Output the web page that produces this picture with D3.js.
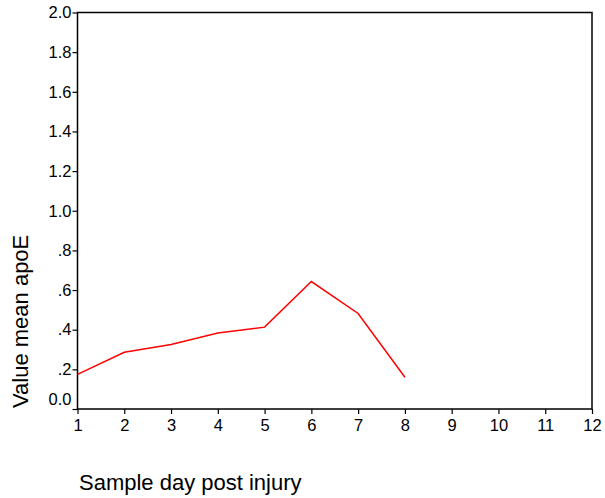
<!DOCTYPE html>
<html><head><meta charset="utf-8">
<script src="https://cdn.jsdelivr.net/npm/d3@7/dist/d3.min.js"></script>
<style>body{margin:0;background:#fff}text{font-family:"Liberation Sans",Arial,sans-serif;fill:#000}</style>
</head><body><svg id="c" width="605" height="498"></svg>
<script>
const days = [1,2,3,4,5,6,7,8];
const apoE = [0.175,0.286,0.325,0.383,0.413,0.643,0.482,0.16];
const xTicks = [1,2,3,4,5,6,7,8,9,10,11,12];
const yTicks = [0,0.2,0.4,0.6,0.8,1.0,1.2,1.4,1.6,1.8,2.0];
const yLabels = ["0.0",".2",".4",".6",".8","1.0","1.2","1.4","1.6","1.8","2.0"];
const xTitle = "Sample day post injury";
const yTitle = "Value mean apoE";

const svg = d3.select("#c");
const L=77.5, R=592, T=12.5, B=409;
const x = d3.scaleLinear().domain([1,12]).range([L,R]);
const y = d3.scaleLinear().domain([0,2]).range([B,T]);

const xa = svg.append("g").attr("transform",`translate(0,${B})`)
  .call(d3.axisBottom(x).tickValues(xTicks).tickSize(5).tickPadding(5).tickFormat(d3.format("d")));
xa.selectAll("text").style("font-size","16.5px").attr("font-family","Liberation Sans, Arial, sans-serif");
const ya = svg.append("g").attr("transform",`translate(${L},0)`)
  .call(d3.axisLeft(y).tickValues(yTicks).tickSize(5).tickPadding(1).tickFormat((d,i)=>yLabels[i]));
ya.selectAll("text").style("font-size","16.5px").attr("font-family","Liberation Sans, Arial, sans-serif")
  .attr("dy",(d)=> d===0 ? "-0.3em" : "0.32em");
svg.selectAll(".domain").remove();
svg.selectAll(".tick line").attr("stroke","#000").attr("stroke-width",1.2);

svg.append("rect").attr("x",L).attr("y",T).attr("width",R-L).attr("height",B-T)
  .attr("fill","none").attr("stroke","#000").attr("stroke-width",1.5);

svg.append("path").datum(days.map((d,i)=>[d,apoE[i]]))
  .attr("fill","none").attr("stroke","#ff0000").attr("stroke-width",1.5)
  .attr("d", d3.line().x(d=>x(d[0])).y(d=>y(d[1])));

svg.append("text").attr("x",79).attr("y",490).style("font-size","22px").text(xTitle);
svg.append("text").attr("transform","translate(28,408) rotate(-90)").style("font-size","22px").text(yTitle);
</script></body></html>
